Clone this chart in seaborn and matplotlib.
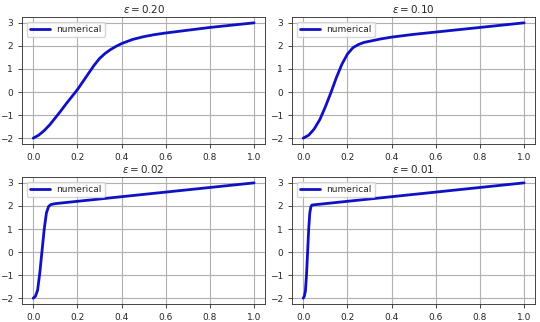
import matplotlib
matplotlib.use("Agg")
import matplotlib.pyplot as plt
import seaborn as sns
import pandas as pd

sns.set_style("ticks")
plt.rcParams['font.family'] = ['DejaVu Sans']

eps_labels = [r"$\varepsilon = 0.20$", r"$\varepsilon = 0.10$", r"$\varepsilon = 0.02$", r"$\varepsilon = 0.01$"]

x_020 = [0, 0.025, 0.05, 0.075, 0.1, 0.125, 0.15, 0.175, 0.2, 0.225, 0.25, 0.275, 0.3, 0.325, 0.35, 0.375, 0.4, 0.45, 0.5, 0.55, 0.6, 0.7, 0.8, 0.9, 1.0]
y_020 = [-2.0, -1.87, -1.67, -1.42, -1.12, -0.82, -0.5, -0.2, 0.1, 0.45, 0.8, 1.15, 1.45, 1.67, 1.84, 1.98, 2.1, 2.28, 2.4, 2.49, 2.56, 2.68, 2.8, 2.9, 3.0]

x_010 = [0, 0.025, 0.05, 0.075, 0.1, 0.125, 0.15, 0.175, 0.2, 0.225, 0.25, 0.275, 0.3, 0.35, 0.4, 0.5, 0.6, 0.8, 1.0]
y_010 = [-2.0, -1.87, -1.6, -1.2, -0.65, -0.04, 0.62, 1.2, 1.64, 1.92, 2.06, 2.15, 2.2, 2.3, 2.38, 2.5, 2.6, 2.8, 3.0]

x_002 = [0, 0.01, 0.02, 0.03, 0.04, 0.05, 0.06, 0.07, 0.08, 0.1, 0.2, 0.4, 0.6, 0.8, 1.0]
y_002 = [-2.0, -1.92, -1.65, -0.9, 0.05, 1.0, 1.7, 1.98, 2.06, 2.1, 2.2, 2.4, 2.6, 2.8, 3.0]

x_001 = [0, 0.005, 0.01, 0.015, 0.02, 0.025, 0.03, 0.035, 0.04, 0.05, 0.1, 0.2, 0.4, 0.6, 0.8, 1.0]
y_001 = [-2.0, -1.92, -1.7, -1.0, 0.0, 1.0, 1.7, 1.97, 2.04, 2.05, 2.1, 2.2, 2.4, 2.6, 2.8, 3.0]

series = [(x_020, y_020), (x_010, y_010), (x_002, y_002), (x_001, y_001)]

fig = plt.figure(figsize=(5.4, 3.22), dpi=100)
boxes = [
    [0.041, 0.553, 0.450, 0.394],
    [0.541, 0.553, 0.450, 0.394],
    [0.041, 0.056, 0.450, 0.394],
    [0.541, 0.056, 0.450, 0.394],
]
for box, (xs, ys), title in zip(boxes, series, eps_labels):
    ax = fig.add_axes(box)
    df = pd.DataFrame({"x": xs, "y": ys})
    sns.lineplot(data=df, x="x", y="y", ax=ax, color="#1010c4", linewidth=2.0,
                 label="numerical", sort=True, estimator=None)
    ax.set_xlim(-0.05, 1.05)
    ax.set_ylim(-2.25, 3.25)
    ax.set_xticks([0.0, 0.2, 0.4, 0.6, 0.8, 1.0])
    ax.set_yticks([-2, -1, 0, 1, 2, 3])
    ax.grid(True, color="#b0b0b0", linewidth=0.8)
    ax.set_xlabel("")
    ax.set_ylabel("")
    ax.tick_params(labelsize=6.5, length=3, width=0.6)
    for s in ax.spines.values():
        s.set_linewidth(0.6)
    ax.set_title(title, fontsize=7.5, pad=3)
    leg = ax.legend(loc="upper left", fontsize=6.5, frameon=True, handlelength=2.2,
                    borderpad=0.35, labelspacing=0.3, handletextpad=0.7)

fig.savefig("out.png", dpi=100)
